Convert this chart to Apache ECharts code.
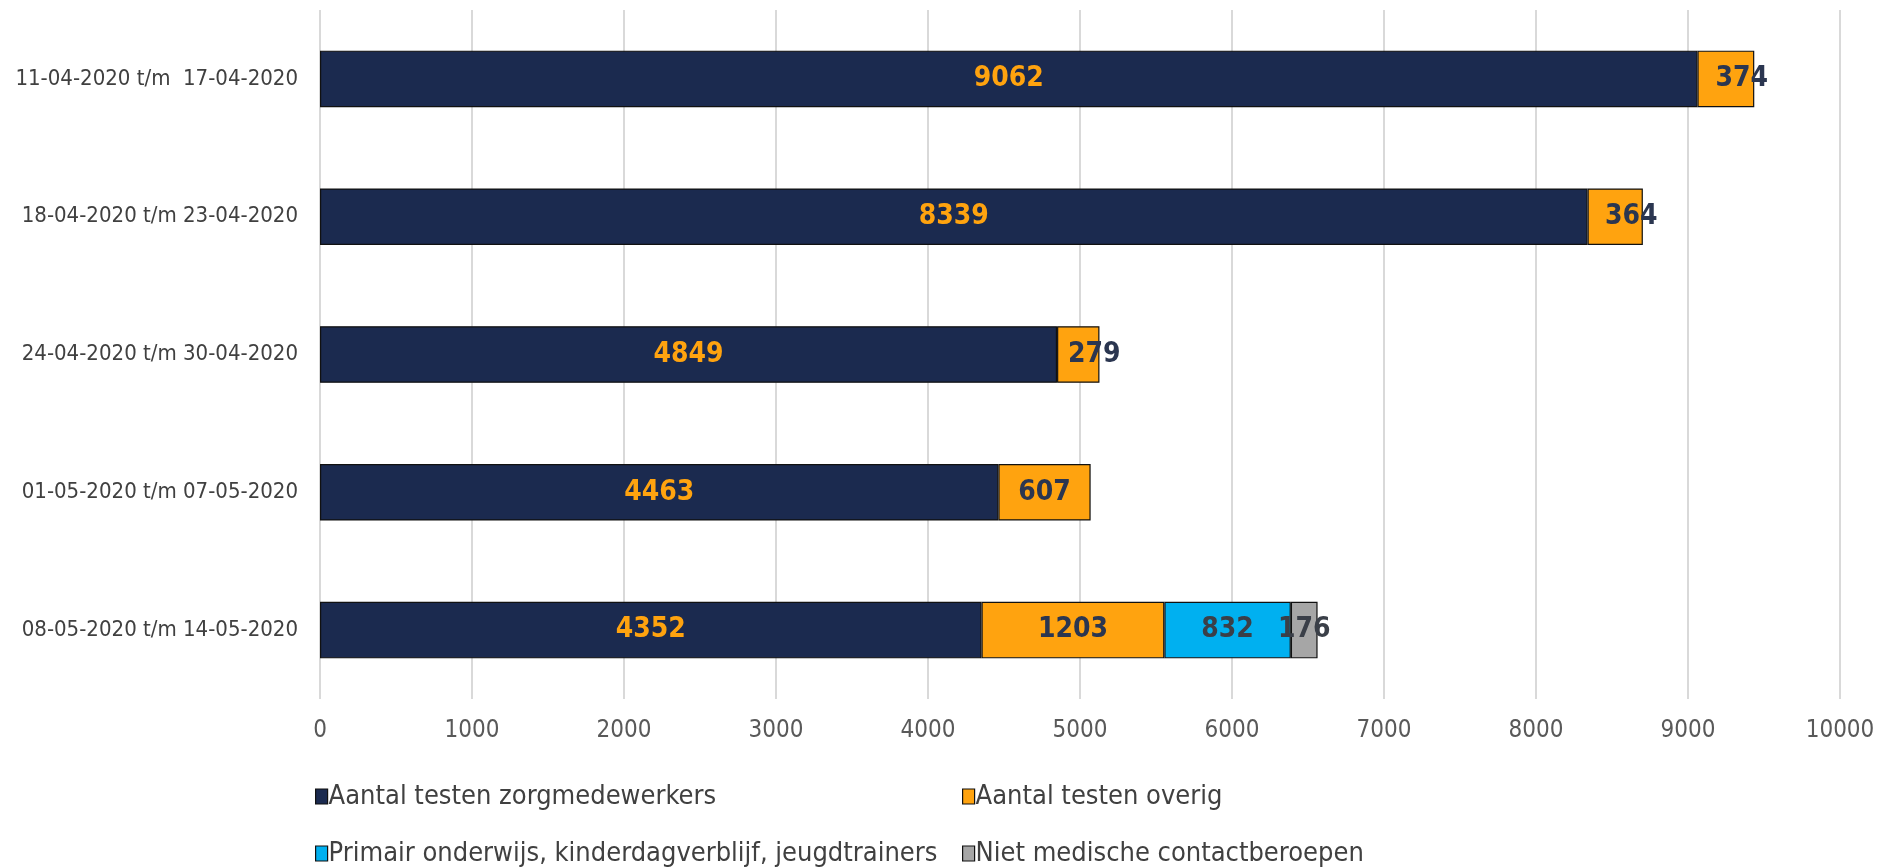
<!DOCTYPE html>
<html><head><meta charset="utf-8">
<script src="https://cdn.jsdelivr.net/npm/echarts@6/dist/echarts.min.js"></script>
<style>html,body{margin:0;padding:0;background:#fff}#c{width:1886px;height:868px}</style>
</head><body><div id="c"></div>
<script>
const categories = ['11-04-2020 t/m  17-04-2020','18-04-2020 t/m 23-04-2020','24-04-2020 t/m 30-04-2020','01-05-2020 t/m 07-05-2020','08-05-2020 t/m 14-05-2020'];
const seriesNames = ['Aantal testen zorgmedewerkers','Aantal testen overig','Primair onderwijs, kinderdagverblijf, jeugdtrainers','Niet medische contactberoepen'];
const zorg = [9062, 8339, 4849, 4463, 4352];
const overig = [374, 364, 279, 607, 1203];
const primair = [null, null, null, null, 832];
const nietMedisch = [null, null, null, null, 176];
const xTicks = [0,1000,2000,3000,4000,5000,6000,7000,8000,9000,10000];

const colors = ['#1B2A4F','#FFA30F','#00B0F0','#A6A6A6'];
const labelColors = ['#FFA30F','#2B3650','#3A3F48','#3A3F48'];
const font = '"DejaVu Sans Condensed", "DejaVu Sans", sans-serif';
const values = [zorg, overig, primair, nietMedisch];

const series = values.map((arr, i) => ({
  name: seriesNames[i], type: 'bar', stack: 'total', barWidth: '41%',
  itemStyle: { color: colors[i], borderColor: '#111', borderWidth: 1.2 },
  label: { show: true, position: 'inside', color: labelColors[i], fontFamily: font, fontWeight: 'bold', fontSize: 28,
    formatter: p => p.value == null ? '' : String(p.value) },
  emphasis: { disabled: true },
  data: arr.map(v => {
    if (i === 1 && v != null && v < 400) return { value: v, label: { offset: [16, 0] } };
    return v;
  })
}));

const legendPos = [[315, 783],[962, 783],[315, 840],[962, 840]];
const legend = seriesNames.map((n, i) => ({
  data: [n], left: legendPos[i][0], top: legendPos[i][1], itemWidth: 12, itemHeight: 15, itemGap: 0,
  icon: 'rect', padding: 0,
  itemStyle: { borderColor: '#111', borderWidth: 1.2 },
  textStyle: { fontFamily: font, fontSize: 27, color: '#404040', padding: [0,0,0,-4] },
  selectedMode: false
}));

const chart = echarts.init(document.getElementById('c'));
chart.setOption({
  animation: false,
  color: colors,
  grid: { left: 320, width: 1520, top: 10, bottom: 169, containLabel: false },
  legend: legend,
  xAxis: { type: 'value', min: xTicks[0], max: xTicks[xTicks.length-1], interval: 1000,
    axisLine: { show: false }, axisTick: { show: false },
    splitLine: { lineStyle: { color: '#D9D9D9', width: 2 } },
    axisLabel: { fontFamily: font, fontSize: 24, color: '#595959', margin: 20, formatter: v => String(v) } },
  yAxis: { type: 'category', data: categories, inverse: true,
    axisLine: { show: false }, axisTick: { show: false },
    axisLabel: { fontFamily: font, fontSize: 22, color: '#404040', margin: 22 } },
  series: series
});
</script></body></html>
